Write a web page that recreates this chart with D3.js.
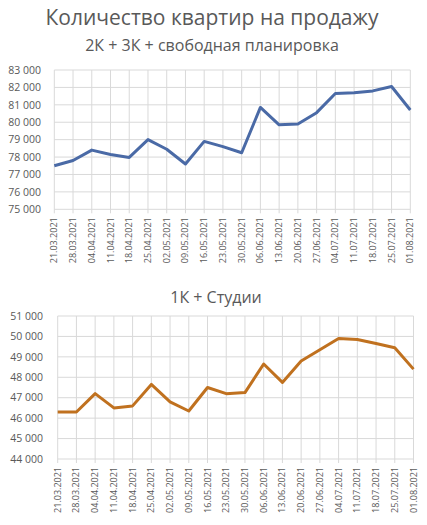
<!DOCTYPE html>
<html>
<head>
<meta charset="utf-8">
<script src="https://cdn.jsdelivr.net/npm/d3@7"></script>
<style>
  body { margin: 0; background: #fff; }
  svg { display: block; font-family: "Open Sans", "Noto Sans", sans-serif; }
</style>
</head>
<body>
<script>
// dates (weekly)
var dates = ['21.03.2021','28.03.2021','04.04.2021','11.04.2021','18.04.2021','25.04.2021',
             '02.05.2021','09.05.2021','16.05.2021','23.05.2021','30.05.2021','06.06.2021',
             '13.06.2021','20.06.2021','27.06.2021','04.07.2021','11.07.2021','18.07.2021',
             '25.07.2021','01.08.2021'];

// 2K + 3K + free layout
var bigFlats = [77500, 77800, 78400, 78150, 77980, 79000, 78450, 77600, 78900, 78600,
                78250, 80850, 79850, 79900, 80550, 81650, 81700, 81800, 82050, 80700];

// 1K + studios
var smallFlats = [46300, 46300, 47200, 46500, 46600, 47650, 46800, 46350, 47500, 47200,
                  47250, 48650, 47750, 48800, 49350, 49900, 49850, 49650, 49450, 48400];

var topTicks = [75000, 76000, 77000, 78000, 79000, 80000, 81000, 82000, 83000];
var bottomTicks = [44000, 45000, 46000, 47000, 48000, 49000, 50000, 51000];

var fmt = function(d){ return d3.format(',')(d).replace(',', ' '); };

var svg = d3.select('body').append('svg')
    .attr('width', 427)
    .attr('height', 525);

svg.append('text')
    .attr('x', 212).attr('y', 25)
    .attr('text-anchor', 'middle')
    .attr('fill', '#595959')
    .style('font-size', '21px')
    .text('Количество квартир на продажу');

svg.append('text')
    .attr('x', 212).attr('y', 51)
    .attr('text-anchor', 'middle')
    .attr('fill', '#595959')
    .style('font-size', '16px')
    .text('2К + 3К + свободная планировка');

svg.append('text')
    .attr('x', 216).attr('y', 303)
    .attr('text-anchor', 'middle')
    .attr('fill', '#595959')
    .style('font-size', '16px')
    .text('1К + Студии');

drawChart(bigFlats, topTicks, [54.3, 410.3], [209.3, 70], '#4a6aa6', 41);
drawChart(smallFlats, bottomTicks, [57.7, 413.5], [459, 316], '#c0711f', 43);

function drawChart(values, ticks, xr, yr, color, labelRight){
    var x = d3.scalePoint().domain(dates).range(xr);
    var y = d3.scaleLinear().domain([ticks[0], ticks[ticks.length - 1]]).range(yr);

    var g = svg.append('g');

    // horizontal grid
    g.append('g').selectAll('line')
        .data(ticks).enter().append('line')
        .attr('x1', xr[0]).attr('x2', xr[1])
        .attr('y1', function(d){ return y(d); })
        .attr('y2', function(d){ return y(d); })
        .attr('stroke', '#d9d9d9').attr('stroke-width', 1);

    // vertical grid
    g.append('g').selectAll('line')
        .data(dates).enter().append('line')
        .attr('x1', function(d){ return x(d); })
        .attr('x2', function(d){ return x(d); })
        .attr('y1', yr[1]).attr('y2', yr[0] + 4)
        .attr('stroke', '#d9d9d9').attr('stroke-width', 1);

    // y labels
    g.append('g').selectAll('text')
        .data(ticks).enter().append('text')
        .attr('x', labelRight)
        .attr('y', function(d){ return y(d); })
        .attr('dy', '0.35em')
        .attr('text-anchor', 'end')
        .attr('fill', '#595959')
        .style('font-size', '10.5px')
        .text(fmt);

    // x labels
    g.append('g').selectAll('text')
        .data(dates).enter().append('text')
        .attr('transform', function(d){
            return 'translate(' + (x(d) + 3) + ',' + (yr[0] + 8) + ') rotate(-90)';
        })
        .attr('text-anchor', 'end')
        .attr('fill', '#595959')
        .style('font-size', '9px')
        .text(function(d){ return d; });

    var line = d3.line()
        .x(function(d, i){ return x(dates[i]); })
        .y(function(d){ return y(d); });

    g.append('path')
        .datum(values)
        .attr('d', line)
        .attr('fill', 'none')
        .attr('stroke', color)
        .attr('stroke-width', 3)
        .attr('stroke-linejoin', 'round');
}
</script>
</body>
</html>
